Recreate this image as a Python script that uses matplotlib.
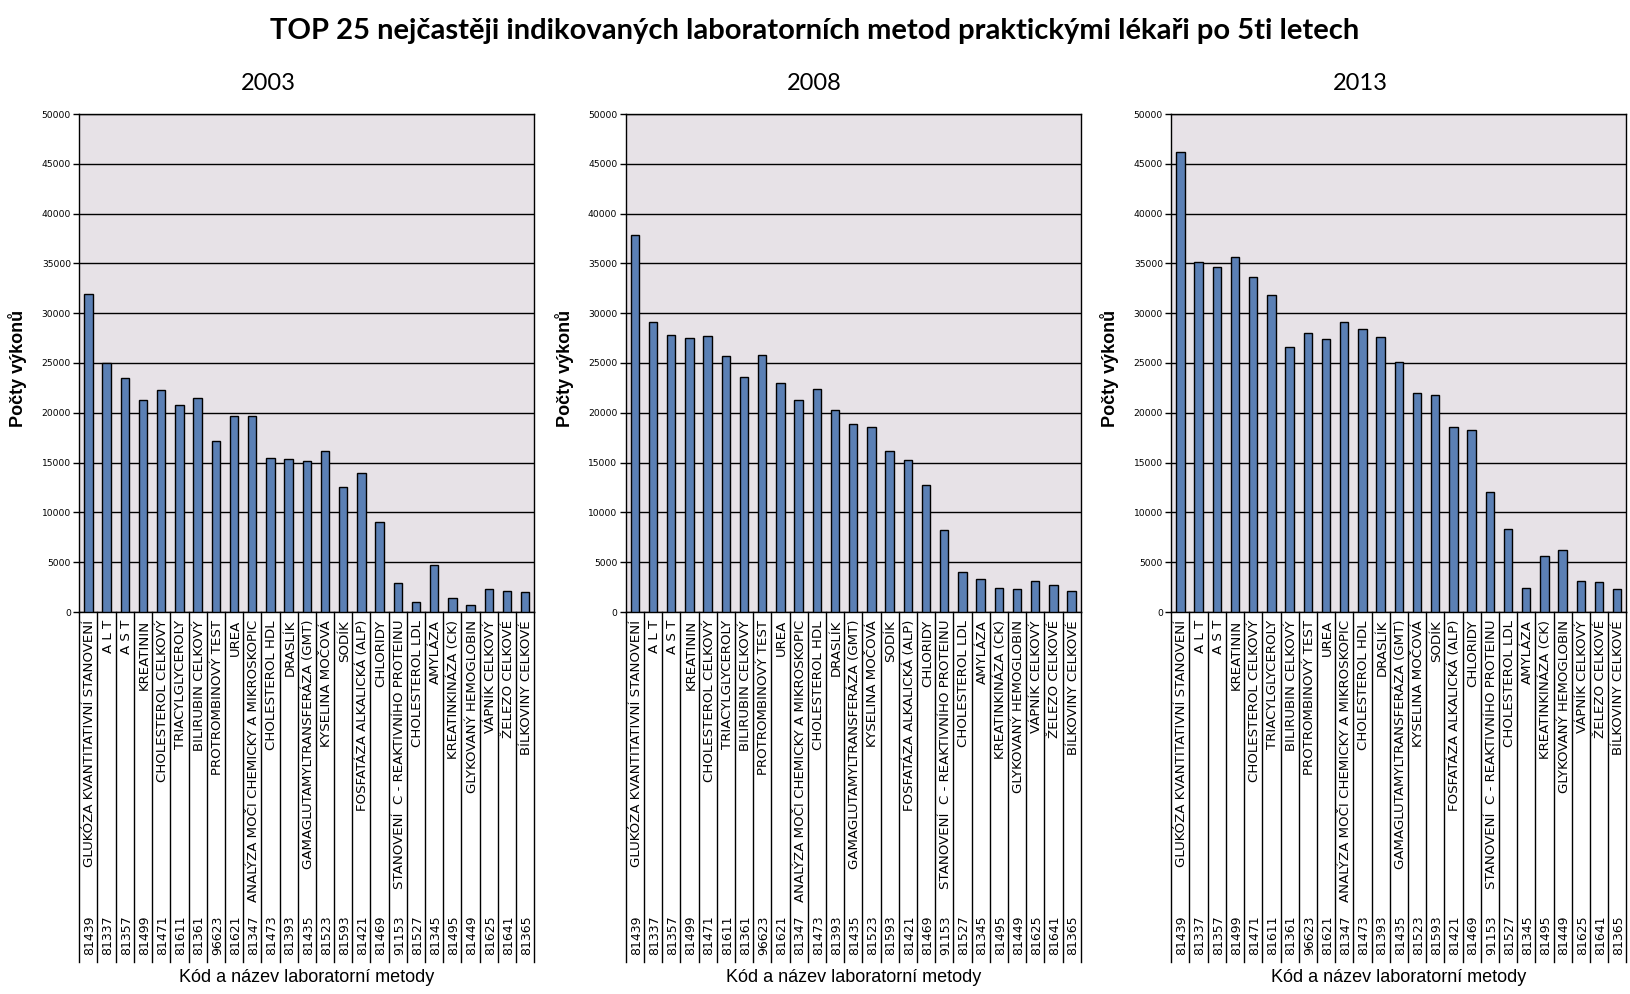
import matplotlib
matplotlib.use('Agg')
import matplotlib.pyplot as plt
import matplotlib.transforms as mtransforms

codes = ['81439', '81337', '81357', '81499', '81471', '81611', '81361', '96623', '81621',
         '81347', '81473', '81393', '81435', '81523', '81593', '81421', '81469', '91153',
         '81527', '81345', '81495', '81449', '81625', '81641', '81365']

names = ['GLUKÓZA KVANTITATIVNÍ STANOVENÍ', 'A L T', 'A S T', 'KREATININ',
         'CHOLESTEROL CELKOVÝ', 'TRIACYLGLYCEROLY', 'BILIRUBIN CELKOVÝ',
         'PROTROMBINOVÝ TEST', 'UREA', 'ANALÝZA MOČI CHEMICKY A MIKROSKOPIC',
         'CHOLESTEROL HDL', 'DRASLÍK', 'GAMAGLUTAMYLTRANSFERÁZA (GMT)',
         'KYSELINA MOČOVÁ', 'SODÍK', 'FOSFATÁZA ALKALICKÁ (ALP)', 'CHLORIDY',
         'STANOVENÍ  C - REAKTIVNÍHO PROTEINU', 'CHOLESTEROL LDL', 'AMYLÁZA',
         'KREATINKINÁZA (CK)', 'GLYKOVANÝ HEMOGLOBIN', 'VÁPNÍK CELKOVÝ',
         'ŽELEZO CELKOVÉ', 'BÍLKOVINY CELKOVÉ']

values_2003 = [31900, 25000, 23500, 21300, 22300, 20800, 21500, 17200, 19700, 19700,
               15500, 15400, 15200, 16200, 12600, 14000, 9000, 2900, 1000, 4700,
               1400, 700, 2300, 2100, 2000]
values_2008 = [37900, 29100, 27800, 27500, 27700, 25700, 23600, 25800, 23000, 21300,
               22400, 20300, 18900, 18600, 16200, 15300, 12800, 8200, 4000, 3300,
               2400, 2300, 3100, 2700, 2100]
values_2013 = [46200, 35100, 34600, 35600, 33600, 31800, 26600, 28000, 27400, 29100,
               28400, 27600, 25100, 22000, 21800, 18600, 18300, 12000, 8300, 2400,
               5600, 6200, 3100, 3000, 2300]

years = ['2003', '2008', '2013']
panels = [values_2003, values_2008, values_2013]

W, H = 1630, 994
fig = plt.figure(figsize=(W / 100, H / 100), dpi=100)

ax_left_px = [79.3, 625.7, 1171.3]
ax_w_px = 455
ax_top_px, ax_bot_px = 114, 612
year_x_px = [268, 814, 1360]

label_bottom = -(955 - ax_bot_px) / (ax_bot_px - ax_top_px)
sep_bottom = -(962 - ax_bot_px) / (ax_bot_px - ax_top_px)

for left, vals, year, yx in zip(ax_left_px, panels, years, year_x_px):
    ax = fig.add_axes([left / W, 1 - ax_bot_px / H, ax_w_px / W, (ax_bot_px - ax_top_px) / H])
    ax.set_facecolor('#e7e2e7')
    ax.bar(range(len(vals)), vals, width=0.46, color='#5b80b5', edgecolor='black',
           linewidth=1, zorder=3)
    ax.set_xlim(-0.5, len(vals) - 0.5)
    ax.set_ylim(0, 50000)
    ax.set_yticks(range(0, 50001, 5000))
    ax.yaxis.grid(True, color='black', linewidth=1, zorder=1)
    ax.set_axisbelow(True)
    ax.tick_params(axis='y', labelsize=6.6, length=4, width=1, pad=2)
    ax.set_xticks([])
    for s in ax.spines.values():
        s.set_linewidth(1)

    trans = mtransforms.blended_transform_factory(ax.transData, ax.transAxes)
    # table-like category area below the axis
    for i in range(len(vals) + 1):
        ax.plot([i - 0.5, i - 0.5], [0, sep_bottom], color='black', linewidth=1,
                transform=trans, clip_on=False)
    for i, (c, n) in enumerate(zip(codes, names)):
        ax.text(i + 0.08, -0.016, n, rotation=90, ha='center', va='top', fontsize=9.6,
                transform=trans, family='DejaVu Sans')
        ax.text(i + 0.08, label_bottom, c, rotation=90, ha='center', va='bottom',
                fontsize=9, transform=trans, family='DejaVu Sans')

    ax.set_ylabel('Počty výkonů', fontsize=13, fontweight='bold', family='Liberation Sans')
    ax.yaxis.set_label_coords(-52 / ax_w_px, 0.49)
    ax.text(0.5, -(978 - ax_bot_px) / (ax_bot_px - ax_top_px),
            'Kód a název laboratorní metody', transform=ax.transAxes, ha='center',
            va='center', fontsize=13, family='Liberation Sans')

    fig.text(yx / W, 1 - 83 / H, year, ha='center', va='center', fontsize=17, family='Lato')

fig.text(815 / W, 1 - 31 / H,
         'TOP 25 nejčastěji indikovaných laboratorních metod praktickými lékaři po 5ti letech',
         ha='center', va='center', fontsize=21, fontweight='bold', family='Lato')

fig.savefig('out.png', dpi=100)
